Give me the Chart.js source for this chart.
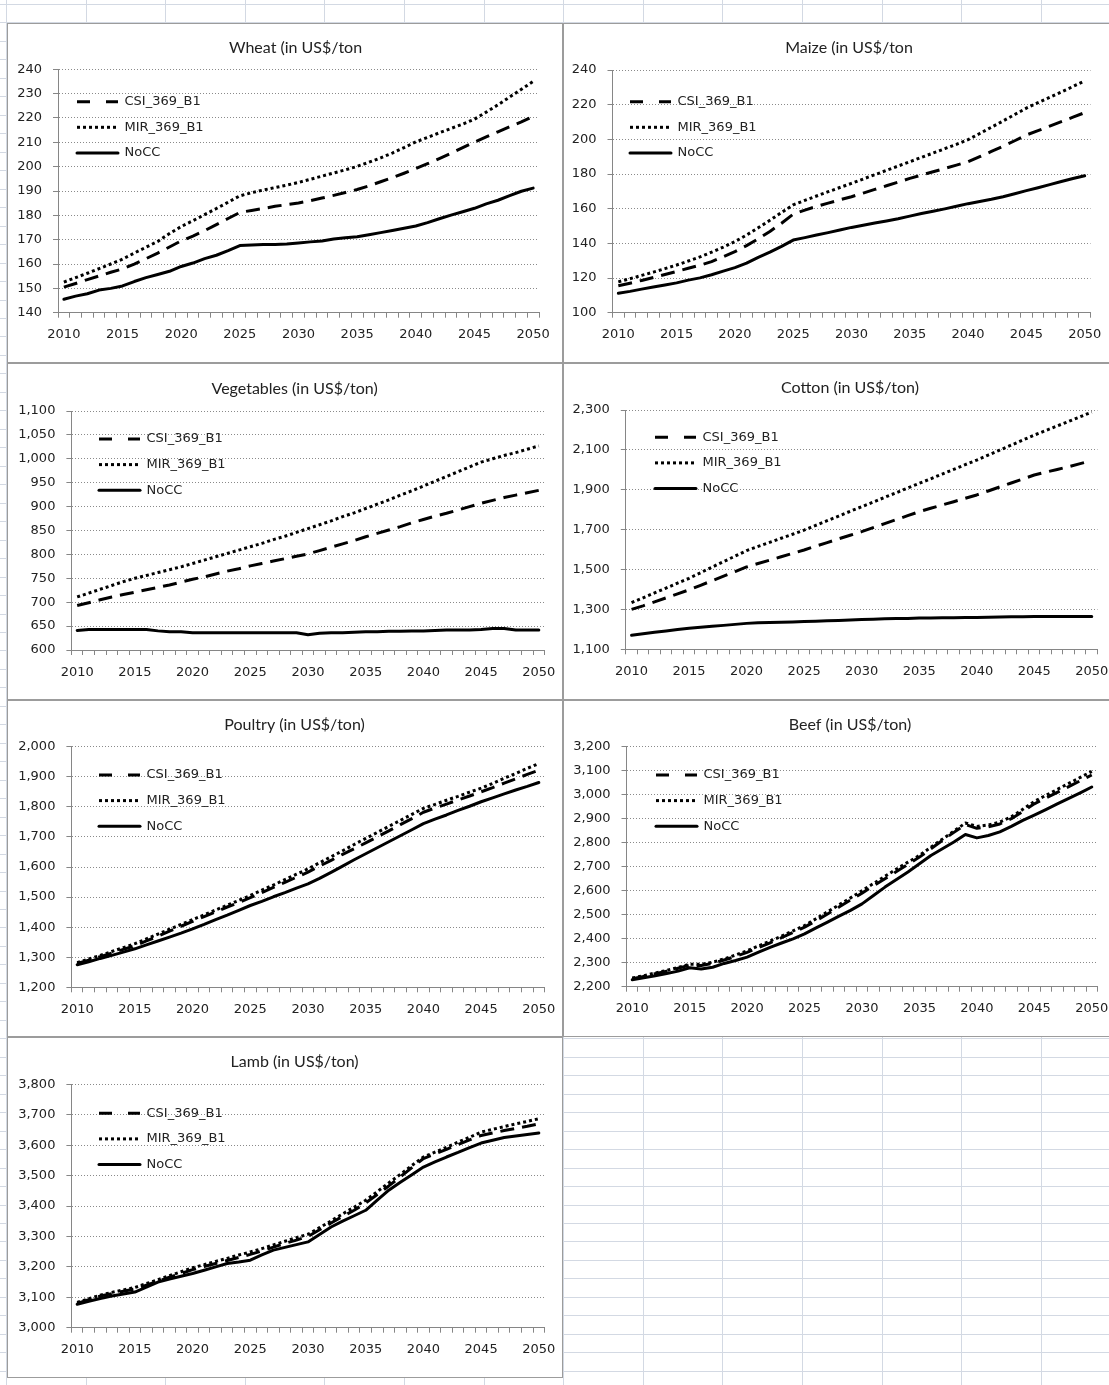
<!DOCTYPE html>
<html><head><meta charset="utf-8">
<script src="https://cdn.jsdelivr.net/npm/chart.js@4.4.1/dist/chart.umd.min.js"></script>
<style>
html,body{margin:0;padding:0;width:1109px;height:1385px;overflow:hidden;background:#fff;}
body{position:relative;
 background-image: repeating-linear-gradient(to right, #d3d9e3 0px, #d3d9e3 1px, transparent 1px, transparent 79.6px),
                   repeating-linear-gradient(to bottom, #d3d9e3 0px, #d3d9e3 1px, transparent 1px, transparent 18.47px);
 background-position: 6px 0, 0 4px;}
.frame{position:absolute;background:#fff;border:1px solid #9c9c9c;box-sizing:border-box;}
canvas{position:absolute;}
</style></head>
<body>
<script>
// ---------------- DATA ----------------
const years = [2010,2011,2012,2013,2014,2015,2016,2017,2018,2019,2020,2021,2022,2023,2024,2025,2026,2027,2028,2029,2030,
               2031,2032,2033,2034,2035,2036,2037,2038,2039,2040,2041,2042,2043,2044,2045,2046,2047,2048,2049,2050];
const seriesNames = ['CSI_369_B1','MIR_369_B1','NoCC'];

const wheatCSI  = [150.5,152.0,153.6,155.1,156.6,158.0,160.0,162.2,164.5,167.0,169.5,171.5,173.7,176.2,178.7,181.2,182.0,182.8,183.7,184.4,185.1,186.0,187.1,188.2,189.4,190.6,192.1,193.8,195.5,197.3,199.2,201.2,203.3,205.5,207.8,210.1,212.2,214.3,216.4,218.4,220.6];
const wheatMIR  = [152.6,154.4,156.2,158.1,160.0,162.0,164.5,166.9,169.3,172.5,175.4,177.8,180.3,182.8,185.4,188.0,189.3,190.4,191.4,192.4,193.5,194.8,196.1,197.4,198.7,200.1,201.8,203.6,205.6,207.8,210.2,212.0,213.9,215.7,217.5,219.5,222.4,225.4,228.6,231.8,235.0];
const wheatNoCC = [145.5,146.8,147.8,149.3,150.0,151.0,152.8,154.4,155.7,157.0,159.0,160.4,162.2,163.6,165.5,167.6,167.8,168.0,168.0,168.2,168.6,169.1,169.5,170.3,170.8,171.2,172.0,172.9,173.8,174.7,175.6,177.0,178.6,180.1,181.5,182.9,184.7,186.2,188.1,189.9,191.2];

const maizeCSI  = [115.5,117.0,118.6,120.3,122.0,123.8,125.6,127.4,129.5,132.3,135.2,138.7,142.6,146.9,151.6,156.8,159.2,161.3,163.2,165.1,166.9,169.0,171.1,173.2,175.3,177.5,179.4,181.3,183.2,185.1,187.1,190.0,193.0,196.0,199.2,202.5,205.0,207.6,210.2,212.8,215.4];
const maizeMIR  = [117.8,119.6,121.5,123.4,125.4,127.5,129.8,132.2,134.9,137.8,141.0,144.8,149.0,153.3,157.8,162.2,164.8,167.3,169.8,172.2,174.6,177.1,179.6,182.1,184.6,187.1,189.6,192.1,194.6,197.1,199.8,203.4,207.0,210.6,214.3,218.0,221.2,224.2,227.3,230.5,233.7];
const maizeNoCC = [111.2,112.3,113.6,114.8,116.0,117.2,118.8,120.1,121.9,124.0,126.0,128.6,131.9,134.9,138.3,141.9,143.3,144.8,146.2,147.7,149.2,150.5,151.7,152.9,154.2,155.7,157.2,158.5,159.9,161.4,162.9,164.1,165.4,166.9,168.6,170.4,172.1,173.9,175.7,177.4,179.0];

const vegCSI  = [693,699,705,711,716,721,726,731,736,742,748,753,759,765,770,776,781,786,791,796,801,808,815,822,829,837,844,851,858,866,873,880,886,893,900,907,913,919,924,929,934];
const vegMIR  = [711,719,727,735,743,750,756,762,768,774,781,788,795,802,809,816,823,831,838,846,854,862,870,879,887,896,905,914,924,933,943,953,963,973,983,993,1000,1007,1013,1020,1027];
const vegNoCC = [641,643,643,643,643,643,643,640,638,638,636,636,636,636,636,636,636,636,636,636,632,635,636,636,637,638,638,639,639,640,640,641,642,642,642,643,645,645,642,642,642];

const cottonCSI  = [1300,1318,1338,1358,1378,1398,1421,1444,1467,1490,1513,1530,1547,1564,1581,1598,1617,1635,1654,1672,1690,1710,1730,1750,1770,1790,1807,1824,1840,1857,1874,1894,1914,1934,1954,1974,1988,2002,2016,2031,2046];
const cottonMIR  = [1334,1358,1383,1407,1432,1456,1484,1512,1540,1567,1595,1616,1636,1657,1677,1698,1721,1745,1768,1792,1815,1838,1862,1885,1909,1932,1955,1979,2002,2026,2049,2074,2099,2124,2149,2174,2197,2220,2243,2266,2290];
const cottonNoCC = [1170,1178,1186,1192,1199,1205,1210,1215,1220,1225,1230,1233,1235,1236,1237,1239,1241,1243,1245,1247,1250,1251,1253,1254,1255,1257,1257,1258,1258,1259,1259,1261,1262,1263,1263,1264,1264,1264,1264,1264,1264];

const poultryCSI  = [1279,1290,1302,1314,1326,1338,1354,1370,1387,1403,1419,1435,1451,1467,1482,1498,1515,1532,1549,1566,1583,1603,1622,1642,1661,1680,1700,1720,1741,1761,1782,1796,1809,1823,1836,1850,1864,1879,1893,1908,1922];
const poultryMIR  = [1282,1294,1306,1319,1332,1345,1361,1377,1393,1409,1425,1441,1457,1473,1489,1505,1523,1540,1558,1576,1594,1614,1634,1654,1675,1695,1715,1735,1755,1775,1795,1808,1822,1835,1849,1862,1878,1895,1911,1928,1944];
const poultryNoCC = [1275,1285,1296,1306,1317,1328,1341,1354,1367,1380,1394,1409,1425,1440,1456,1472,1486,1501,1515,1530,1544,1562,1582,1603,1624,1644,1664,1684,1704,1724,1744,1759,1773,1788,1802,1817,1830,1843,1856,1868,1881];

const beefCSI  = [2233,2243,2254,2265,2277,2290,2288,2297,2311,2326,2343,2363,2383,2404,2426,2448,2475,2503,2532,2561,2590,2620,2650,2680,2710,2740,2775,2810,2843,2876,2860,2866,2878,2900,2930,2962,2986,3010,3034,3058,3082];
const beefMIR  = [2236,2246,2257,2268,2280,2294,2293,2302,2316,2332,2350,2370,2390,2411,2433,2455,2483,2512,2541,2570,2600,2630,2660,2690,2719,2747,2781,2815,2848,2882,2868,2874,2886,2908,2939,2972,2997,3022,3047,3072,3097];
const beefNoCC = [2229,2237,2246,2255,2265,2279,2274,2281,2297,2309,2323,2344,2364,2382,2399,2420,2445,2469,2494,2518,2545,2580,2615,2647,2678,2712,2747,2775,2803,2834,2820,2830,2845,2868,2893,2915,2938,2962,2985,3008,3032];

const lambCSI  = [3080,3092,3104,3112,3120,3127,3140,3153,3166,3178,3191,3201,3211,3221,3231,3241,3252,3265,3277,3288,3300,3322,3344,3366,3386,3410,3438,3466,3496,3526,3556,3571,3586,3602,3617,3632,3640,3648,3655,3662,3670];
const lambMIR  = [3083,3095,3107,3116,3124,3132,3145,3158,3171,3184,3197,3207,3218,3228,3239,3249,3260,3272,3284,3296,3307,3329,3351,3374,3396,3419,3447,3476,3504,3533,3561,3577,3593,3610,3626,3643,3652,3661,3670,3678,3687];
const lambNoCC = [3077,3087,3096,3104,3111,3117,3133,3150,3160,3169,3178,3189,3200,3211,3216,3222,3239,3255,3264,3273,3282,3306,3331,3350,3368,3386,3419,3452,3478,3503,3528,3545,3561,3576,3592,3607,3616,3625,3630,3635,3640];

const titles = ['Wheat (in US$/ton','Maize (in US$/ton','Vegetables (in US$/ton)','Cotton (in US$/ton)','Poultry (in US$/ton)','Beef (in US$/ton)','Lamb (in US$/ton)'];
const yMins  = [140, 100, 600, 1100, 1200, 2200, 3000];
const yMaxs  = [240, 240, 1100, 2300, 2000, 3200, 3800];
const ySteps = [10, 20, 50, 200, 100, 100, 100];
const chartSeries = [
  [wheatCSI, wheatMIR, wheatNoCC],
  [maizeCSI, maizeMIR, maizeNoCC],
  [vegCSI, vegMIR, vegNoCC],
  [cottonCSI, cottonMIR, cottonNoCC],
  [poultryCSI, poultryMIR, poultryNoCC],
  [beefCSI, beefMIR, beefNoCC],
  [lambCSI, lambMIR, lambNoCC]
];

// ---------------- LAYOUT (page coordinates) ----------------
const frames = [
  {x:7,   y:23,   w:556, h:340, pl:58,    pr:539,    pt:69.3,   pb:312.7,  tx:295.5, ty:47.7,   lx:77,  ly:101.7},
  {x:563, y:23,   w:560, h:340, pl:612.5, pr:1090.5, pt:70,     pb:312.7,  tx:849,   ty:47.7,   lx:630, ly:101.7},
  {x:7,   y:363,  w:556, h:337, pl:71.4,  pr:544.6,  pt:411,    pb:650,    tx:294.6, ty:389.3,  lx:99,  ly:439},
  {x:563, y:363,  w:560, h:337, pl:625.8, pr:1097.5, pt:410,    pb:649.3,  tx:850,   ty:387.7,  lx:655, ly:437.3},
  {x:7,   y:700,  w:556, h:337, pl:71.4,  pr:544.6,  pt:746.7,  pb:987.3,  tx:294.6, ty:725,    lx:99,  ly:775},
  {x:563, y:700,  w:560, h:337, pl:626.5, pr:1097.5, pt:746.7,  pb:986.7,  tx:850,   ty:725,    lx:656, ly:775},
  {x:7,   y:1037, w:556, h:341, pl:71.4,  pr:544.6,  pt:1084.3, pb:1327.7, tx:294.6, ty:1062.3, lx:99,  ly:1113.3}
];

const FONT = "'DejaVu Sans', Verdana, sans-serif";
const TFONT = "Lato, 'Open Sans', sans-serif";
const TXT = '#222';
const AXIS = '#868686';
const FS = 13;
const styles = [
  {borderDash:[14,8], borderCapStyle:'butt', legendDash:[13,16]},
  {borderDash:[3,3],  borderCapStyle:'butt', legendDash:[3,3]},
  {borderDash:[],     borderCapStyle:'round', legendDash:[]}
];

// moves the title and the legend to where the reference has them
const blockMover = {
  id: 'blockMover',
  afterLayout(chart, args, opts) {
    const tb = chart.titleBlock;
    if (tb) { tb.left = opts.tx - 200; tb.right = opts.tx + 200; tb.width = 400; }
    const lg = chart.legend;
    if (lg) {
      const pad = lg.options.labels.padding;
      const fs = lg.options.labels.font.size;
      lg.left = opts.lx - pad;
      lg.top = opts.ly - fs / 2 - pad;
      lg.width = 300; lg.height = 200;
      lg.right = lg.left + 300; lg.bottom = lg.top + 200;
    }
  }
};

Chart.defaults.animation = false;

frames.forEach((f, k) => {
  const div = document.createElement('div');
  div.className = 'frame';
  Object.assign(div.style, {left: f.x + 'px', top: f.y + 'px', width: f.w + 'px', height: f.h + 'px'});
  document.body.appendChild(div);
  const cv = document.createElement('canvas');
  cv.width = f.w; cv.height = f.h;
  Object.assign(cv.style, {left: f.x + 'px', top: f.y + 'px', width: f.w + 'px', height: f.h + 'px'});
  document.body.appendChild(cv);

  const TSIZE = 16;
  const TLH = TSIZE * 1.2;
  const XH = 30;
  const prRel = f.pr - f.x, plRel = f.pl - f.x;
  const padR = f.w - prRel;
  const yW = plRel;
  const padT = (f.ty - f.y) - TLH / 2;
  const titleBottom = (f.pt - f.y) - padT - TLH;
  const padB = f.h - (f.pb - f.y) - XH;

  const datasets = chartSeries[k].map((arr, i) => ({
    label: seriesNames[i], data: arr, borderColor: '#000', backgroundColor: '#000',
    borderWidth: 3, pointRadius: 0, pointHoverRadius: 0, tension: 0, fill: false,
    borderJoinStyle: 'round', borderDash: styles[i].borderDash, borderCapStyle: styles[i].borderCapStyle
  }));

  new Chart(cv, {
    type: 'line',
    data: {labels: years.map(String), datasets},
    plugins: [blockMover],
    options: {
      responsive: false, animation: false,
      layout: {padding: {left: 0, right: padR, top: padT, bottom: padB}},
      plugins: {
        tooltip: {enabled: false},
        title: {display: true, text: titles[k], color: TXT, font: {family: TFONT, size: TSIZE, weight: 'normal', lineHeight: 1.2}, padding: {top: 0, bottom: titleBottom}},
        legend: {
          position: 'chartArea', align: 'start',
          labels: {
            font: {family: FONT, size: FS}, color: TXT, usePointStyle: true, pointStyle: 'line',
            pointStyleWidth: 41, boxHeight: 12, padding: 12.6,
            generateLabels: (chart) => chart.data.datasets.map((d, i) => ({
              text: d.label, fillStyle: d.borderColor, strokeStyle: d.borderColor, lineWidth: d.borderWidth,
              lineDash: styles[i].legendDash, lineDashOffset: 0, lineCap: d.borderCapStyle, lineJoin: 'miter',
              pointStyle: 'line', hidden: false, datasetIndex: i, fontColor: TXT
            }))
          }
        },
        blockMover: {tx: f.tx - f.x, lx: f.lx - f.x, ly: f.ly - f.y}
      },
      scales: {
        x: {
          type: 'category', offset: true,
          grid: {display: true, drawOnChartArea: false, drawTicks: true, tickLength: 5, offset: true, color: AXIS, tickColor: AXIS},
          border: {display: true, color: AXIS, width: 1},
          ticks: {autoSkip: false, maxRotation: 0, minRotation: 0, padding: 9.5, color: TXT, font: {family: FONT, size: FS},
            callback: function(v) { const lab = this.getLabelForValue(v); return (Number(lab) % 5 === 0) ? lab : ''; }},
          afterFit: (s) => { s.height = XH; s.paddingLeft = 0; s.paddingRight = 0; }
        },
        y: {
          min: yMins[k], max: yMaxs[k],
          grid: {color: '#8a8a8a', lineWidth: 1, drawTicks: true, tickLength: 5, tickColor: AXIS, tickBorderDash: []},
          border: {display: true, color: AXIS, width: 1, dash: [1, 2]},
          ticks: {stepSize: ySteps[k], padding: 11, color: TXT, font: {family: FONT, size: FS},
            callback: (v) => v.toLocaleString('en-US')},
          afterFit: (s) => { s.width = yW; s.paddingTop = 0; s.paddingBottom = 0; }
        }
      }
    }
  });
});
</script>
</body></html>
